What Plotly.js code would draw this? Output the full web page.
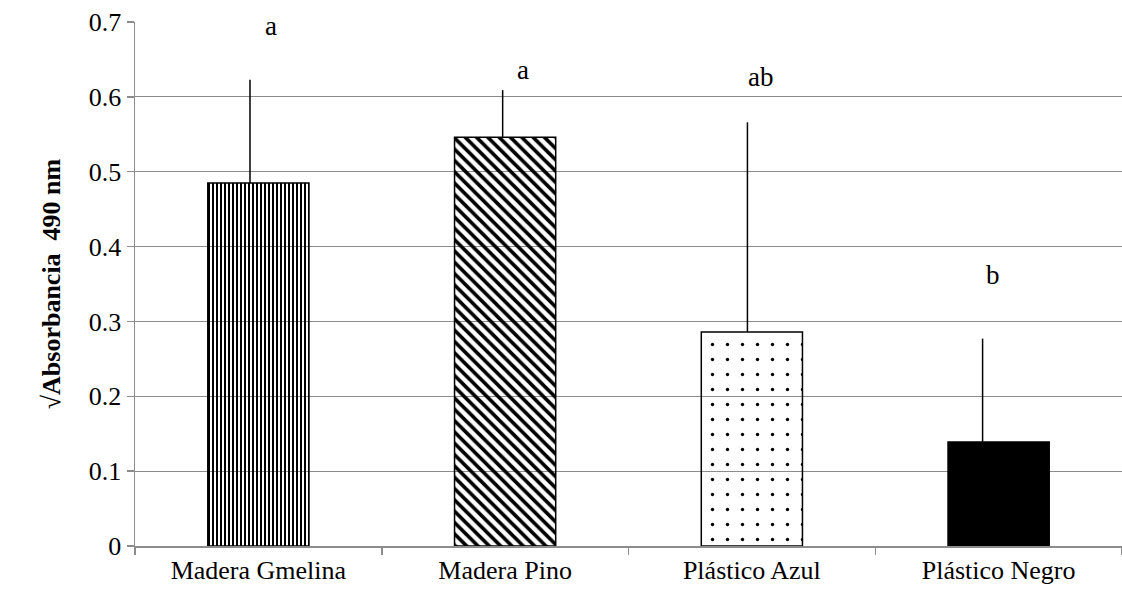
<!DOCTYPE html>
<html><head><meta charset="utf-8">
<script src="https://cdn.plot.ly/plotly-3.0.1.min.js"></script>
<style>html,body{margin:0;padding:0;background:#fff}#chart{width:1122px;height:591px}</style>
</head><body><div id="chart"></div>
<script>
const categories = ["Madera Gmelina", "Madera Pino", "Plástico Azul", "Plástico Negro"];
const means = [0.485, 0.546, 0.286, 0.139];
const errPlus = [0.138, 0.063, 0.280, 0.138];
const letters = ["a", "a", "ab", "b"];
const letterY = [0.695, 0.636, 0.626, 0.362];
const yTickVals = [0, 0.1, 0.2, 0.3, 0.4, 0.5, 0.6, 0.7];
const yTickText = ["0", "0.1", "0.2", "0.3", "0.4", "0.5", "0.6", "0.7"];

const serif = "'Liberation Serif', 'Times New Roman', serif";
const letterShift = [13, 18, 9, -6];
const errOffset = [-0.034, -0.010, -0.018, -0.065];

const barTrace = {
  type: "bar",
  x: categories,
  y: means,
  marker: {
    color: ["#000", "#000", "#000", "#000"],
    line: {color: "#000", width: 1.5},
    pattern: {
      shape: ["|", "\\", ".", ""],
      fillmode: "replace",
      bgcolor: ["#fff", "#fff", "#fff", "#000"],
      fgcolor: ["#111", "#000", "#333", "#000"],
      size: [4, 8, 15, 8],
      solidity: [0.5, 0.45, 0.04, 0.5]
    }
  },
  hoverinfo: "none"
};

const errTrace = {
  type: "bar",
  x: categories,
  y: means,
  width: 0.01,
  offset: errOffset.map(o => o - 0.005),
  marker: {color: "rgba(0,0,0,0)", line: {width: 0}},
  error_y: {
    type: "data", symmetric: false,
    array: errPlus, arrayminus: [0, 0, 0, 0],
    color: "#000", thickness: 1.5, width: 0
  },
  hoverinfo: "none"
};

const annotations = categories.map((c, i) => ({
  x: c, y: letterY[i], xref: "x", yref: "y", text: letters[i],
  showarrow: false, xshift: letterShift[i], font: {family: serif, size: 27, color: "#000"}
}));

const layout = {
  width: 1122, height: 591,
  margin: {l: 135, r: 0, t: 22, b: 45},
  paper_bgcolor: "#fff", plot_bgcolor: "#fff",
  showlegend: false,
  barmode: "overlay",
  bargap: 0.59,
  font: {family: serif, color: "#000"},
  xaxis: {
    type: "category", range: [-0.5, 3.5],
    showline: true, linecolor: "#8c8c8c", linewidth: 1.5,
    ticks: "outside", tickson: "boundaries", ticklen: 7, tickcolor: "#8c8c8c", tickwidth: 1.5,
    showgrid: false, zeroline: false,
    tickfont: {family: serif, size: 26, color: "#000"}
  },
  yaxis: {
    range: [0, 0.7], tickvals: yTickVals, ticktext: yTickText,
    showline: true, linecolor: "#8c8c8c", linewidth: 1.5,
    ticks: "outside", ticklen: 7, tickcolor: "#8c8c8c", tickwidth: 1.5,
    showgrid: true, gridcolor: "#8c8c8c", gridwidth: 1.2, zeroline: false,
    tickfont: {family: serif, size: 26, color: "#000"},
    title: {text: "<b>√Absorbancia  490 nm</b>", font: {family: serif, size: 26, color: "#000"}, standoff: 20}
  },
  annotations: annotations
};

Plotly.newPlot("chart", [barTrace, errTrace], layout, {displayModeBar: false, staticPlot: true});
</script>
</body></html>
